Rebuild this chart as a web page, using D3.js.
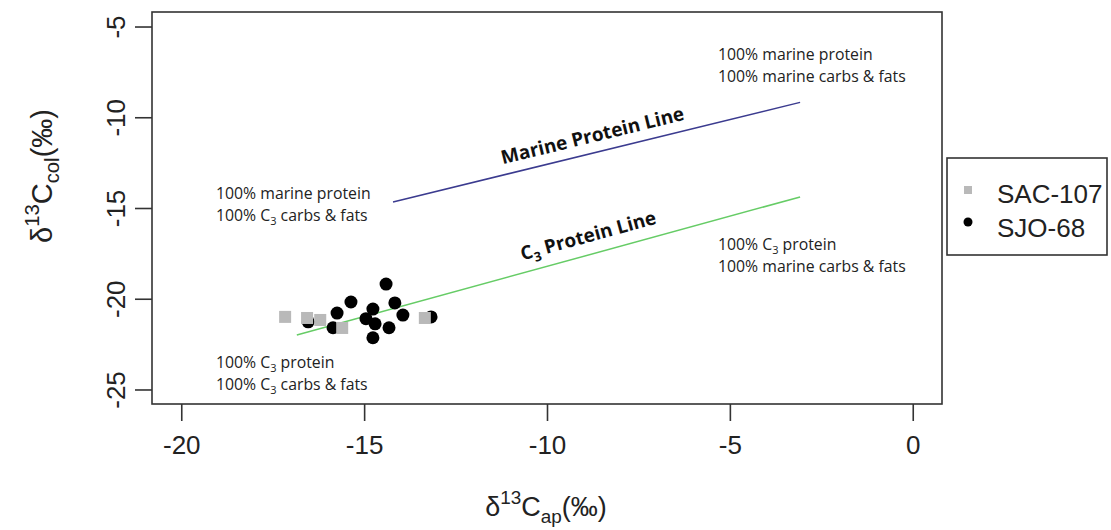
<!DOCTYPE html>
<html>
<head>
<meta charset="utf-8">
<script src="https://cdn.jsdelivr.net/npm/d3@7"></script>
<style>
  html, body { margin: 0; padding: 0; background: #fff; }
  svg { display: block; }
</style>
</head>
<body>
<svg id="chart" width="1111" height="530"></svg>
<script>
// δ13C apatite (x) vs collagen (y) per site
const sacX = [-17.16, -16.56, -16.2, -15.6, -13.34];
const sacY = [-21.0, -21.06, -21.17, -21.61, -21.06];
const sjoX = [-16.53, -15.74, -15.85, -15.36, -14.95, -14.76, -14.7, -14.76, -14.4, -14.32, -14.16, -13.94, -13.17];
const sjoY = [-21.27, -20.79, -21.6, -20.18, -21.1, -20.57, -21.38, -22.15, -19.19, -21.6, -20.23, -20.9, -21.0];

// diet model reference lines: [x0, x1], [y0, y1]
const marineLineX = [-14.21, -3.08];
const marineLineY = [-14.67, -9.18];
const c3LineX = [-16.84, -3.08];
const c3LineY = [-22.0, -14.39];

const xTicks = [-20, -15, -10, -5, 0];
const yTicks = [-25, -20, -15, -10, -5];
const seriesNames = ["SAC-107", "SJO-68"];

const svg = d3.select("#chart");
const plotL = 152, plotR = 942, plotT = 12, plotB = 404;

const x = d3.scaleLinear().domain([-20.8, 0.8]).range([plotL, plotR]);
const y = d3.scaleLinear().domain([-25.8, -4.2]).range([plotB, plotT]);

const ink = "#222";
const tickFont = "'Liberation Sans', Arial, sans-serif";
const noteFont = "'Open Sans', sans-serif";

// plot frame
svg.append("rect")
  .attr("x", plotL).attr("y", plotT)
  .attr("width", plotR - plotL).attr("height", plotB - plotT)
  .attr("fill", "none").attr("stroke", "#333").attr("stroke-width", 1.6);

// x axis
const xAxis = d3.axisBottom(x).tickValues(xTicks).tickSize(17).tickPadding(15)
  .tickFormat(d => d3.format("d")(d).replace("−", "-"));
const gx = svg.append("g").attr("transform", `translate(0,${plotB})`).call(xAxis);
gx.select(".domain").remove();
gx.selectAll(".tick line").attr("stroke", "#333").attr("stroke-width", 1.6);
gx.selectAll(".tick text").attr("font-family", tickFont).attr("font-size", 26).attr("fill", ink);

// y axis, labels turned to run along the axis
const yAxis = d3.axisLeft(y).tickValues(yTicks).tickSize(17).tickPadding(0)
  .tickFormat(d => d3.format("d")(d).replace("−", "-"));
const gy = svg.append("g").attr("transform", `translate(${plotL},0)`).call(yAxis);
gy.select(".domain").remove();
gy.selectAll(".tick line").attr("stroke", "#333").attr("stroke-width", 1.6);
gy.selectAll(".tick text")
  .attr("font-family", tickFont).attr("font-size", 26).attr("fill", ink)
  .attr("x", null).attr("dy", null)
  .attr("text-anchor", "middle")
  .attr("transform", "translate(-36,0) rotate(-90)")
  .attr("dominant-baseline", "central");

// axis titles
function isotopeLabel(g, sub, size) {
  const s = size * 0.7, shift = size * 0.45;
  const t = g.append("text").attr("font-family", tickFont).attr("font-size", size)
    .attr("fill", ink).attr("text-anchor", "middle");
  t.append("tspan").text("δ");
  t.append("tspan").attr("font-size", s).attr("dy", -shift).text("13");
  t.append("tspan").attr("dy", shift).text("C");
  t.append("tspan").attr("font-size", s).attr("dy", shift * 0.55).text(sub);
  t.append("tspan").attr("dy", -shift * 0.55).text("(‰)");
  return t;
}
isotopeLabel(svg.append("g").attr("transform", "translate(546,516)"), "ap", 27);
isotopeLabel(svg.append("g").attr("transform", "translate(52,176) rotate(-90)"), "col", 29);

// model lines
const line = d3.line().x(d => x(d[0])).y(d => y(d[1]));
svg.append("path")
  .datum(d3.zip(marineLineX, marineLineY))
  .attr("d", line).attr("fill", "none").attr("stroke", "#3b3b8f").attr("stroke-width", 1.5);
svg.append("path")
  .datum(d3.zip(c3LineX, c3LineY))
  .attr("d", line).attr("fill", "none").attr("stroke", "#66cc66").attr("stroke-width", 1.5);

// line titles, tilted with their line
function angleOf(xs, ys) {
  return Math.atan2(y(ys[1]) - y(ys[0]), x(xs[1]) - x(xs[0])) * 180 / Math.PI;
}
const mAng = angleOf(marineLineX, marineLineY);
const cAng = angleOf(c3LineX, c3LineY);
svg.append("text")
  .attr("transform", `translate(594,142) rotate(${mAng})`)
  .attr("font-family", noteFont).attr("font-weight", 700).attr("font-size", 19)
  .attr("fill", "#111").attr("text-anchor", "middle")
  .text("Marine Protein Line");
const c3t = svg.append("text")
  .attr("transform", `translate(590,242) rotate(${cAng})`)
  .attr("font-family", noteFont).attr("font-weight", 700).attr("font-size", 19)
  .attr("fill", "#111").attr("text-anchor", "middle");
c3t.append("tspan").text("C");
c3t.append("tspan").attr("font-size", 13).attr("dy", 5).text("3");
c3t.append("tspan").attr("dy", -5).text(" Protein Line");

// corner annotations; lines given as [text, subscript, rest]
const notes = [
  { x: 718, y: 60, lines: [["100% marine protein"], ["100% marine carbs & fats"]] },
  { x: 216, y: 199, lines: [["100% marine protein"], ["100% C", "3", " carbs & fats"]] },
  { x: 718, y: 250, lines: [["100% C", "3", " protein"], ["100% marine carbs & fats"]] },
  { x: 216, y: 368, lines: [["100% C", "3", " protein"], ["100% C", "3", " carbs & fats"]] }
];
notes.forEach(n => {
  n.lines.forEach((parts, i) => {
    const t = svg.append("text")
      .attr("x", n.x).attr("y", n.y + i * 22)
      .attr("font-family", noteFont).attr("font-size", 15.8).attr("fill", "#222");
    t.append("tspan").text(parts[0]);
    if (parts.length > 1) {
      t.append("tspan").attr("font-size", 11).attr("dy", 4).text(parts[1]);
      t.append("tspan").attr("dy", -4).text(parts[2]);
    }
  });
});

// points: SJO-68 circles, SAC-107 squares drawn over them
svg.append("g").selectAll("circle")
  .data(d3.zip(sjoX, sjoY))
  .join("circle")
  .attr("cx", d => x(d[0])).attr("cy", d => y(d[1]))
  .attr("r", 6.5).attr("fill", "#000");

const sq = 12;
svg.append("g").selectAll("rect")
  .data(d3.zip(sacX, sacY))
  .join("rect")
  .attr("x", d => x(d[0]) - sq / 2).attr("y", d => y(d[1]) - sq / 2)
  .attr("width", sq).attr("height", sq).attr("fill", "#b9b9b9");

// legend
const lg = svg.append("g");
lg.append("rect")
  .attr("x", 947).attr("y", 158).attr("width", 160).attr("height", 97)
  .attr("fill", "#fff").attr("stroke", "#333").attr("stroke-width", 1.6);
lg.append("rect").attr("x", 964).attr("y", 186).attr("width", 8).attr("height", 8).attr("fill", "#b9b9b9");
lg.append("circle").attr("cx", 968).attr("cy", 222).attr("r", 4.5).attr("fill", "#000");
seriesNames.forEach((name, i) => {
  lg.append("text")
    .attr("x", 997).attr("y", 194 + i * 34)
    .attr("dominant-baseline", "central")
    .attr("font-family", tickFont).attr("font-size", 26).attr("fill", ink)
    .text(name);
});
</script>
</body>
</html>
